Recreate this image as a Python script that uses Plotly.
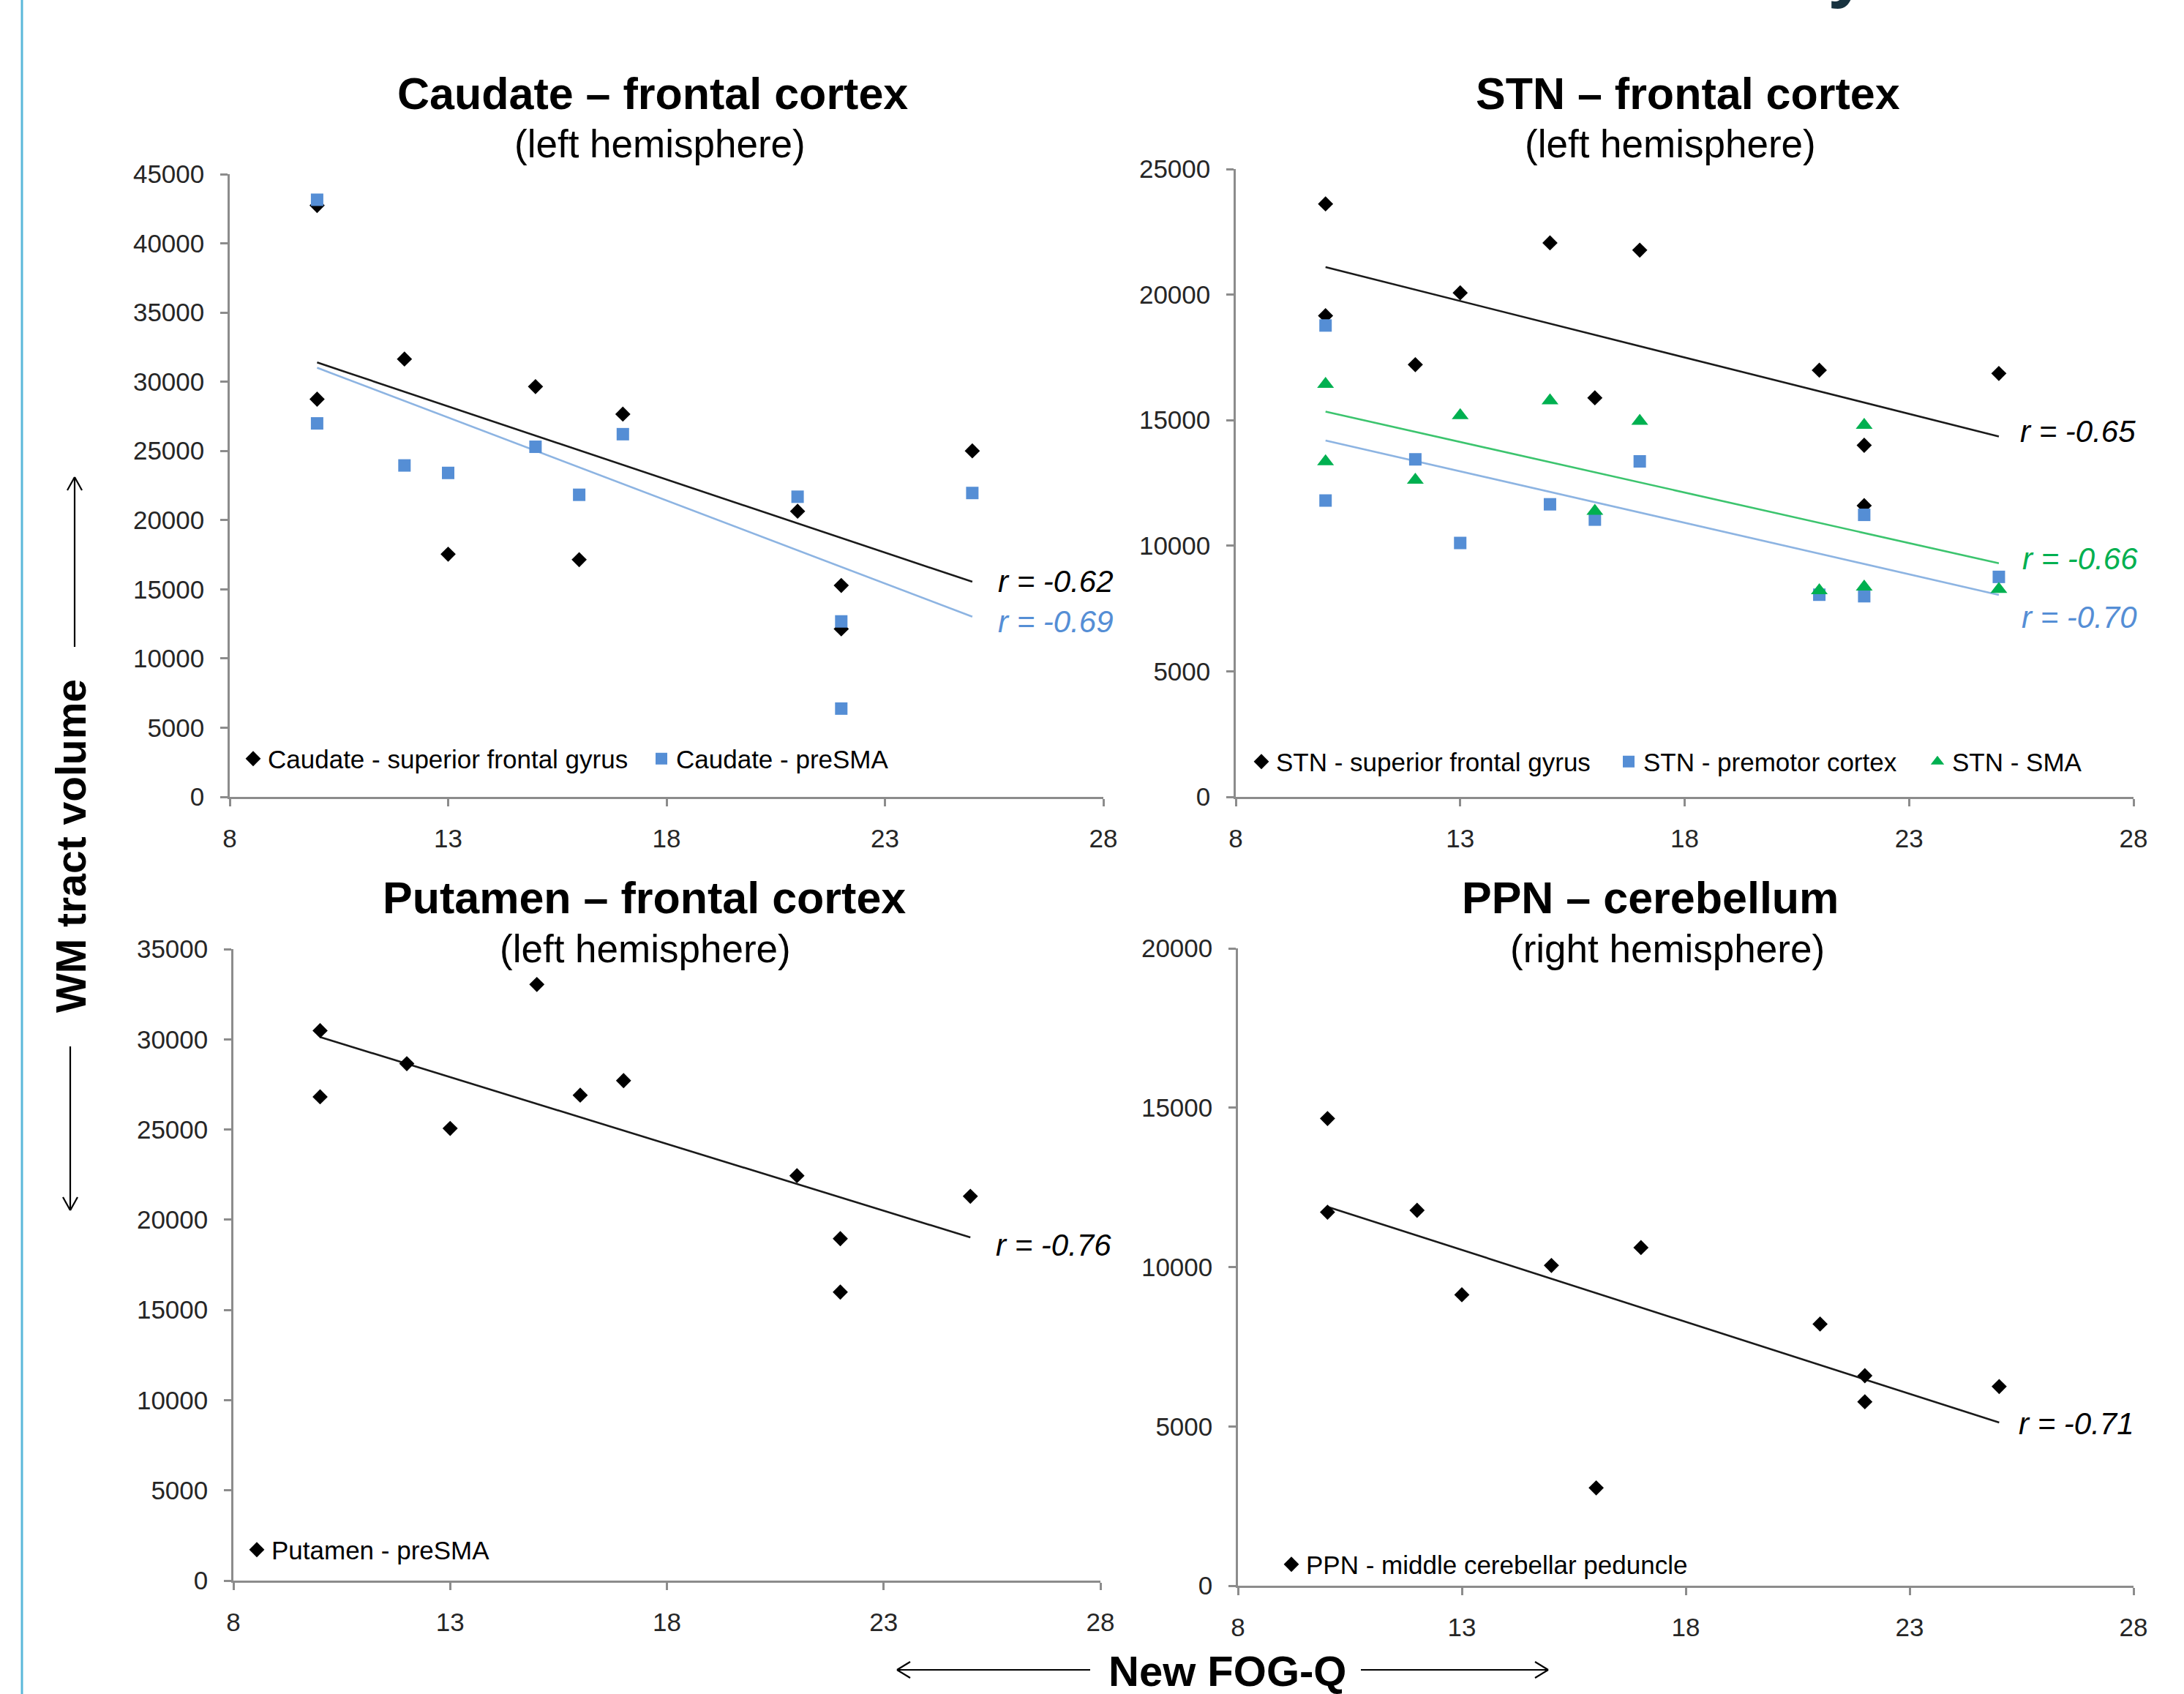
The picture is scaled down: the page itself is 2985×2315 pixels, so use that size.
import numpy as np
import plotly.graph_objects as go

# ---------------- data ----------------
fogq_x = [10, 10, 12, 13, 15, 16, 17, 21, 22, 22, 25]

caudate_sfg = [42740, 28740, 31640, 17540, 29650, 17140, 27660, 20640, 15280, 12140, 25000]
caudate_presma = [43150, 26990, 23950, 23410, 25300, 21830, 26210, 21690, 12680, 6380, 21960]

stn_sfg = [23610, 19160, 17210, 20070, 22060, 15890, 21770, 16990, 14000, 11600, 16860]
stn_premotor = [18770, 11800, 13440, 10110, 11650, 11040, 13360, 8050, 7990, 11230, 8760]
stn_sma = [16430, 13350, 12620, 15190, 15780, 11380, 14960, 8220, 14800, 8360, 8270]

putamen_presma = [30480, 26810, 28650, 25060, 33040, 26900, 27710, 22440, 18950, 15990, 21300]

ppn_mcp = [14660, 11720, 11780, 9130, 10050, 3070, 10610, 8210, 6590, 5770, 6250]

x_ticks = [8, 13, 18, 23, 28]
r_values = {"caud_sfg": "-0.62", "caud_presma": "-0.69", "stn_sfg": "-0.65",
            "stn_sma": "-0.66", "stn_premotor": "-0.70", "putamen": "-0.76", "ppn": "-0.71"}

# ---------------- layout helpers ----------------
W, H = 2985, 2315
def px(x):
    return x / W
def py(y):
    return 1 - y / H

BLACK = "#000000"
BLUE = "#558ED5"
BLUE_LINE = "#8DB4E2"
GREEN = "#00B050"
GREEN_LINE = "#3CC46E"
AXIS = "#8C8C8C"
TICKTXT = "#262626"
SANS = "Liberation Sans, Arial, sans-serif"

fig = go.Figure()
legends = {}

def add_series(x, y, name, symbol, size, color, xa, ya, legend, lx, ly):
    fig.add_trace(go.Scatter(
        x=x, y=y, mode="markers", name=name,
        marker=dict(symbol=symbol, size=size, color=color, line=dict(width=0)),
        xaxis=xa, yaxis=ya, legend=legend, cliponaxis=False))
    # legend text start (lx) and vertical centre (ly) in page pixels
    legends[legend] = dict(orientation="h", x=px(lx - 40), y=py(ly),
                           xanchor="left", yanchor="middle",
                           bgcolor="rgba(0,0,0,0)", borderwidth=0,
                           font=dict(family=SANS, size=35, color="#000000"),
                           itemclick=False, itemdoubleclick=False)

def add_trend(x, y, color, xa, ya):
    xs = np.array(x, dtype=float)
    ys = np.array(y, dtype=float)
    m, b = np.polyfit(xs, ys, 1)
    xl = np.array([xs.min(), xs.max()])
    fig.add_trace(go.Scatter(
        x=xl, y=m * xl + b, mode="lines", line=dict(color=color, width=2.6),
        xaxis=xa, yaxis=ya, showlegend=False, hoverinfo="skip"))

# Top-left: Caudate
add_trend(fogq_x, caudate_sfg, "#1a1a1a", "x", "y")
add_trend(fogq_x, caudate_presma, BLUE_LINE, "x", "y")
add_series(fogq_x, caudate_sfg, "Caudate - superior frontal gyrus", "diamond", 16, BLACK,
           "x", "y", "legend", 366, 1037)
add_series(fogq_x, caudate_presma, "Caudate - preSMA", "square", 17, BLUE,
           "x", "y", "legend2", 924, 1037)

# Top-right: STN
add_trend(fogq_x, stn_sfg, "#1a1a1a", "x2", "y2")
add_trend(fogq_x, stn_sma, GREEN_LINE, "x2", "y2")
add_trend(fogq_x, stn_premotor, BLUE_LINE, "x2", "y2")
add_series(fogq_x, stn_sfg, "STN - superior frontal gyrus", "diamond", 16, BLACK,
           "x2", "y2", "legend3", 1744, 1041)
add_series(fogq_x, stn_premotor, "STN - premotor cortex", "square", 17, BLUE,
           "x2", "y2", "legend4", 2246, 1041)
add_series(fogq_x, stn_sma, "STN - SMA", "triangle-up", 20, GREEN,
           "x2", "y2", "legend5", 2668, 1041)

# Bottom-left: Putamen
add_trend(fogq_x, putamen_presma, "#1a1a1a", "x3", "y3")
add_series(fogq_x, putamen_presma, "Putamen - preSMA", "diamond", 16, BLACK,
           "x3", "y3", "legend6", 371, 2118)

# Bottom-right: PPN
add_trend(fogq_x, ppn_mcp, "#1a1a1a", "x4", "y4")
add_series(fogq_x, ppn_mcp, "PPN - middle cerebellar peduncle", "diamond", 16, BLACK,
           "x4", "y4", "legend7", 1785, 2138)

# ---------------- axes ----------------
def xaxis_cfg(l, r, ya):
    return dict(domain=[px(l), px(r)], range=[8, 28], tickvals=x_ticks, anchor=ya,
                showline=True, linecolor=AXIS, linewidth=2.5, ticks="outside",
                ticklen=10, tickwidth=2.5, tickcolor=AXIS, showgrid=False, zeroline=False,
                tickfont=dict(family=SANS, size=35, color=TICKTXT), ticklabelstandoff=14,
                automargin=False, fixedrange=True)

def yaxis_cfg(bottom, top, ymax, xa):
    return dict(domain=[py(bottom), py(top)], range=[0, ymax], dtick=5000, tick0=0,
                tickformat="d", anchor=xa,
                showline=True, linecolor=AXIS, linewidth=2.5, ticks="outside",
                ticklen=10, tickwidth=2.5, tickcolor=AXIS, showgrid=False, zeroline=False,
                tickfont=dict(family=SANS, size=35, color=TICKTXT), ticklabelstandoff=15,
                automargin=False, fixedrange=True)

layout = dict(
    template="none",
    width=W, height=H, autosize=False,
    margin=dict(l=0, r=0, t=0, b=0, pad=0, autoexpand=False),
    paper_bgcolor="white", plot_bgcolor="white",
    xaxis=xaxis_cfg(314, 1508, "y"),
    yaxis=yaxis_cfg(1089, 238, 45000, "x"),
    xaxis2=xaxis_cfg(1689, 2916, "y2"),
    yaxis2=yaxis_cfg(1089, 231, 25000, "x2"),
    xaxis3=xaxis_cfg(319, 1504, "y3"),
    yaxis3=yaxis_cfg(2160, 1297, 35000, "x3"),
    xaxis4=xaxis_cfg(1692, 2916, "y4"),
    yaxis4=yaxis_cfg(2167, 1296, 20000, "x4"),
    showlegend=True,
)
layout.update(legends)
fig.update_layout(**layout)

# ---------------- annotations ----------------
ann = []
def text(x, y, s, size, color="#000000", family=SANS, xanchor="center", yanchor="middle", angle=0):
    ann.append(dict(x=px(x), y=py(y), xref="paper", yref="paper", text=s, showarrow=False,
                    xanchor=xanchor, yanchor=yanchor, textangle=angle,
                    font=dict(family=family, size=size, color=color)))

titles = [
    (892, 128, "Caudate – frontal cortex", 902, 196, "(left hemisphere)"),
    (2307, 128, "STN – frontal cortex", 2283, 196, "(left hemisphere)"),
    (880, 1227, "Putamen – frontal cortex", 882, 1296, "(left hemisphere)"),
    (2255, 1227, "PPN – cerebellum", 2279, 1296, "(right hemisphere)"),
]
for tx, ty, t, sx, sy, s in titles:
    text(tx, ty, "<b>" + t + "</b>", 61)
    text(sx, sy, s, 53)

# correlation labels
rlabels = [
    (1443, 794, r_values["caud_sfg"], BLACK),
    (1443, 850, r_values["caud_presma"], BLUE),
    (2840, 589, r_values["stn_sfg"], BLACK),
    (2843, 763, r_values["stn_sma"], GREEN),
    (2842, 843, r_values["stn_premotor"], BLUE),
    (1440, 1701, r_values["putamen"], BLACK),
    (2838, 1946, r_values["ppn"], BLACK),
]
for x, y, v, c in rlabels:
    text(x, y, "<i>r = " + v + "</i>", 42, color=c)

# axis titles
text(97, 1156, "<b>WM tract volume</b>", 57, angle=-90)
text(1677, 2283, "<b>New FOG-Q</b>", 58)

# cut-off page title glyph at the top
ann.append(dict(x=px(2526), y=py(13), xref="paper", yref="paper", text="<b>y</b>",
                showarrow=False, xanchor="center", yanchor="bottom", borderpad=0,
                font=dict(family=SANS, size=100, color="#17323F")))

fig.update_layout(annotations=ann)

# ---------------- decorative shapes (arrows, page rule) ----------------
shapes = []
def line(x0, y0, x1, y1, color="#000000", width=2.2):
    shapes.append(dict(type="line", xref="paper", yref="paper",
                       x0=px(x0), y0=py(y0), x1=px(x1), y1=py(y1),
                       line=dict(color=color, width=width)))

# left page rule
line(30, 0, 30, H, color="#5BB8DA", width=3)

# vertical arrows
line(102, 884, 102, 652)
line(102, 652, 92, 670)
line(102, 652, 112, 670)
line(96, 1430, 96, 1654)
line(96, 1654, 86, 1636)
line(96, 1654, 106, 1636)

# horizontal arrows
line(1490, 2282, 1226, 2282)
line(1226, 2282, 1244, 2271)
line(1226, 2282, 1244, 2293)
line(1860, 2282, 2116, 2282)
line(2116, 2282, 2098, 2271)
line(2116, 2282, 2098, 2293)

fig.update_layout(shapes=shapes)

fig.write_html("out.html", config={"displayModeBar": False},
               post_script="document.body.style.margin='0';document.body.style.overflow='hidden';")
